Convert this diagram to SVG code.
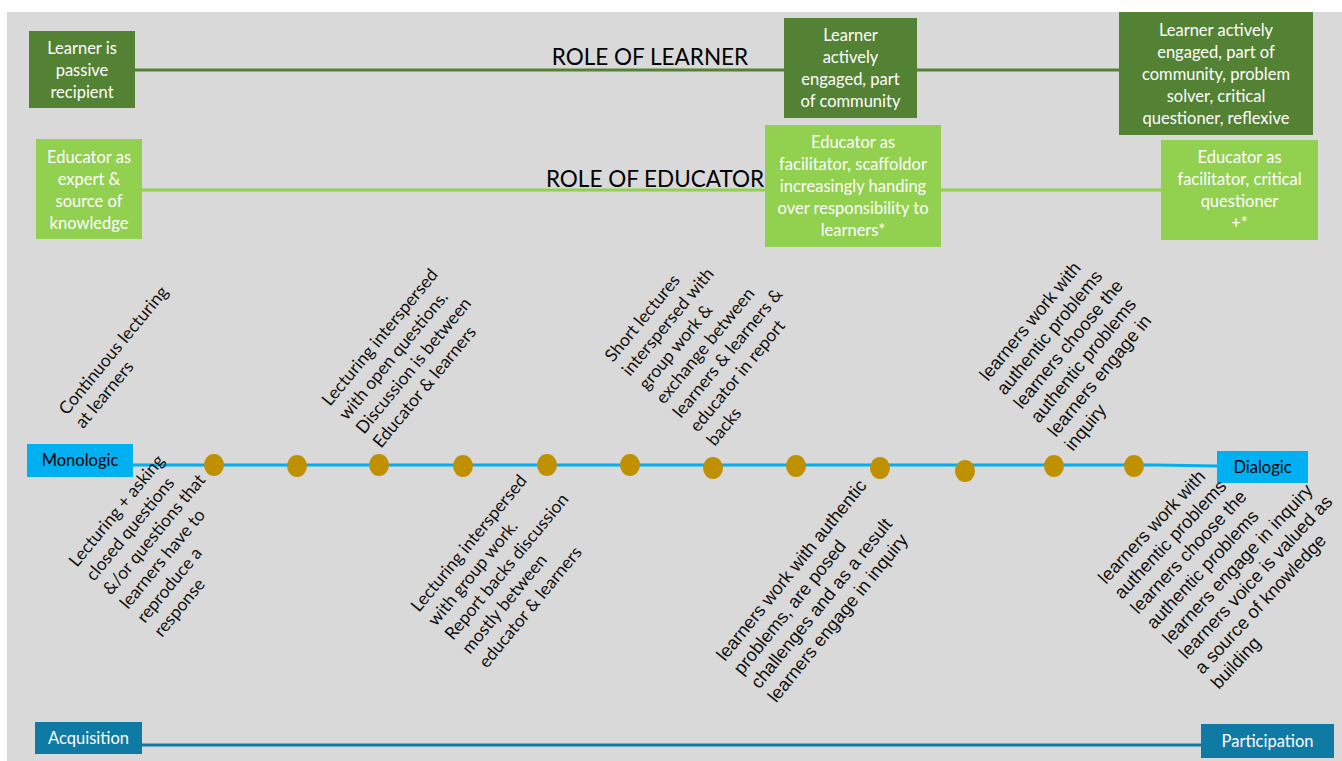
<svg xmlns="http://www.w3.org/2000/svg" width="1342" height="761" viewBox="0 0 1342 761">
<style>
.bt{font-family:Lato,"Liberation Sans",sans-serif;font-size:16.5px;fill:#ffffff;text-anchor:middle}
.bk{font-family:Lato,"Liberation Sans",sans-serif;font-size:16.5px;fill:#000000;text-anchor:middle}
.role{font-family:Lato,"Liberation Sans",sans-serif;font-size:22.5px;fill:#000000;text-anchor:middle}
.rc{font-family:Lato,"Liberation Sans",sans-serif;font-size:17.5px;fill:#111111}
.ra{font-family:"Liberation Sans",Arial,sans-serif;font-size:18.3px;fill:#111111}
.dg{fill:#548235}
.lg{fill:#92d050}
.cy{fill:#00b0f0}
.tl{fill:#0f7aa4}
.dot{fill:#bf9000}
</style>
<rect x="7" y="12" width="1335" height="749" fill="#d9d9d9"/>
<g id="connectors" fill="none" stroke-width="3">
<path d="M135,70 H1119" stroke="#548235"/>
<path d="M142,190 H1161" stroke="#92d050"/>
<path d="M133,465 H1157 L1217,466" stroke="#00b0f0"/>
<path d="M142,745 H1165 L1201,745" stroke="#0f7aa4"/>
</g>
<g id="role-learner-label"><text class="role" x="650" y="65">ROLE OF LEARNER</text></g>
<g id="role-educator-label"><text class="role" x="655" y="187">ROLE OF EDUCATOR</text></g>
<g id="learner-passive">
<rect class="dg" x="29" y="31" width="106" height="77"/>
<text class="bt" x="82" y="54">Learner is</text>
<text class="bt" x="82" y="76">passive</text>
<text class="bt" x="82" y="98">recipient</text>
</g>
<g id="educator-expert">
<rect class="lg" x="36" y="139" width="106" height="100"/>
<text class="bt" x="89" y="163">Educator as</text>
<text class="bt" x="89" y="185">expert &amp;</text>
<text class="bt" x="89" y="207">source of</text>
<text class="bt" x="89" y="229">knowledge</text>
</g>
<g id="learner-active">
<rect class="dg" x="784" y="18" width="133" height="100"/>
<text class="bt" x="850.5" y="41">Learner</text>
<text class="bt" x="850.5" y="63">actively</text>
<text class="bt" x="850.5" y="85">engaged, part</text>
<text class="bt" x="850.5" y="107">of community</text>
</g>
<g id="educator-facilitator">
<rect class="lg" x="765" y="125" width="176" height="122"/>
<text class="bt" x="853" y="148">Educator as</text>
<text class="bt" x="853" y="170">facilitator, scaffoldor</text>
<text class="bt" x="853" y="192">increasingly handing</text>
<text class="bt" x="853" y="214">over responsibility to</text>
<text class="bt" x="853" y="236">learners*</text>
</g>
<g id="learner-critical">
<rect class="dg" x="1119" y="12" width="194" height="123"/>
<text class="bt" x="1216" y="36">Learner actively</text>
<text class="bt" x="1216" y="58">engaged, part of</text>
<text class="bt" x="1216" y="80">community, problem</text>
<text class="bt" x="1216" y="102">solver, critical</text>
<text class="bt" x="1216" y="124">questioner, reflexive</text>
</g>
<g id="educator-critical">
<rect class="lg" x="1161" y="140" width="157" height="100"/>
<text class="bt" x="1239.5" y="163">Educator as</text>
<text class="bt" x="1239.5" y="185">facilitator, critical</text>
<text class="bt" x="1239.5" y="207">questioner</text>
<text class="bt" x="1239.5" y="229">+*</text>
</g>
<g id="monologic">
<rect class="cy" x="27" y="444" width="106" height="33"/>
<text class="bk" x="80" y="466">Monologic</text>
</g>
<g id="dialogic">
<rect class="cy" x="1217" y="451" width="91" height="32"/>
<text class="bk" x="1262.5" y="473">Dialogic</text>
</g>
<g id="acquisition">
<rect class="tl" x="35" y="722" width="107" height="32"/>
<text class="bt" x="88.5" y="744">Acquisition</text>
</g>
<g id="participation">
<rect class="tl" x="1201" y="724" width="133" height="34"/>
<text class="bt" x="1267.5" y="747">Participation</text>
</g>
<g id="dot-1"><ellipse class="dot" cx="214" cy="465" rx="10" ry="11"/></g>
<g id="dot-2"><ellipse class="dot" cx="297" cy="466" rx="10" ry="11"/></g>
<g id="dot-3"><ellipse class="dot" cx="379" cy="465" rx="10" ry="11"/></g>
<g id="dot-4"><ellipse class="dot" cx="463" cy="466" rx="10" ry="11"/></g>
<g id="dot-5"><ellipse class="dot" cx="547" cy="465" rx="10" ry="11"/></g>
<g id="dot-6"><ellipse class="dot" cx="630" cy="465" rx="10" ry="11"/></g>
<g id="dot-7"><ellipse class="dot" cx="713" cy="468" rx="10" ry="11"/></g>
<g id="dot-8"><ellipse class="dot" cx="796" cy="466" rx="10" ry="11"/></g>
<g id="dot-9"><ellipse class="dot" cx="880" cy="468" rx="10" ry="11"/></g>
<g id="dot-10"><ellipse class="dot" cx="965" cy="471" rx="10" ry="11"/></g>
<g id="dot-11"><ellipse class="dot" cx="1054" cy="466" rx="10" ry="11"/></g>
<g id="dot-12"><ellipse class="dot" cx="1134" cy="466" rx="10" ry="11"/></g>
<g id="label-continuous" transform="translate(67,416) rotate(-50.5)">
<text class="rc"><tspan x="0" y="0">Continuous lecturing</tspan><tspan x="0" y="21">at learners</tspan></text>
</g>
<g id="label-open-questions" transform="translate(330,407) rotate(-50.5)">
<text class="rc"><tspan x="0" y="0">Lecturing interspersed</tspan><tspan x="0" y="22">with open questions.</tspan><tspan x="0" y="44">Discussion is between</tspan><tspan x="0" y="66">Educator &amp; learners</tspan></text>
</g>
<g id="label-short-lectures" transform="translate(613,363) rotate(-50.5)">
<text class="rc"><tspan x="0" y="0">Short lectures</tspan><tspan x="0" y="22">interspersed with</tspan><tspan x="0" y="44">group work &amp;</tspan><tspan x="0" y="66">exchange between</tspan><tspan x="0" y="88">learners &amp; learners &amp;</tspan><tspan x="0" y="110">educator in report</tspan><tspan x="0" y="132">backs</tspan></text>
</g>
<g id="label-choose-problems" transform="translate(988,382) rotate(-50.5)">
<text class="ra"><tspan x="0" y="0">learners work with</tspan><tspan x="0" y="22">authentic problems</tspan><tspan x="0" y="44">learners choose the</tspan><tspan x="0" y="66">authentic problems</tspan><tspan x="0" y="88">learners engage in</tspan><tspan x="0" y="110">inquiry</tspan></text>
</g>
<g id="label-closed-questions" transform="translate(77,568) rotate(-50.5)">
<text class="rc"><tspan x="0" y="0">Lecturing + asking</tspan><tspan x="0" y="22">closed questions</tspan><tspan x="0" y="44">&amp;/or questions that</tspan><tspan x="0" y="66">learners have to</tspan><tspan x="0" y="88">reproduce a</tspan><tspan x="0" y="110">response</tspan></text>
</g>
<g id="label-group-work" transform="translate(419,613) rotate(-50.5)">
<text class="rc"><tspan x="0" y="0">Lecturing interspersed</tspan><tspan x="0" y="22">with group work.</tspan><tspan x="0" y="44">Report backs discussion</tspan><tspan x="0" y="66">mostly between</tspan><tspan x="0" y="88">educator &amp; learners</tspan></text>
</g>
<g id="label-posed-challenges" transform="translate(725,662) rotate(-51)">
<text class="ra"><tspan x="0" y="0">learners work with authentic</tspan><tspan x="0" y="22">problems, are posed</tspan><tspan x="0" y="44">challenges and as a result</tspan><tspan x="0" y="66">learners engage in inquiry</tspan></text>
</g>
<g id="label-voice-valued" transform="translate(1106,585) rotate(-47)">
<text class="ra"><tspan x="0" y="0">learners work with</tspan><tspan x="0" y="22">authentic problems</tspan><tspan x="0" y="44">learners choose the</tspan><tspan x="0" y="66">authentic problems</tspan><tspan x="0" y="88">learners engage in inquiry</tspan><tspan x="0" y="110">learners voice is valued as</tspan><tspan x="0" y="132">a source of knowledge</tspan><tspan x="0" y="154">building</tspan></text>
</g>
</svg>
